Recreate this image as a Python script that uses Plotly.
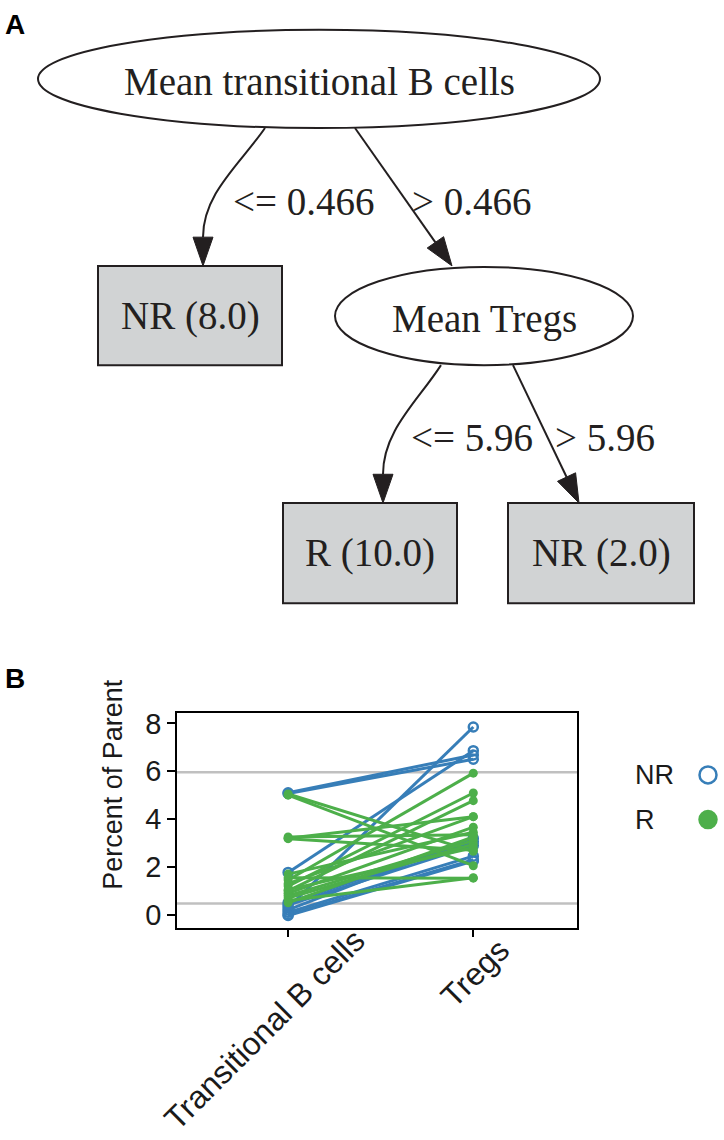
import plotly.graph_objects as go

W, H = 724, 1140

# ---- panel B data (percent of parent) ----
categories = ["Transitional B cells", "Tregs"]
nr_transB = [5.10, 5.07, 0.30, 1.77, 0.20, 0.50, 0.40, 0.10, 0.00, -0.03]
nr_tregs = [6.68, 6.50, 7.85, 6.86, 3.20, 3.05, 2.90, 2.45, 2.30, 2.25]
r_transB = [5.05, 5.00, 3.25, 3.20, 3.18, 1.70, 1.45, 1.20, 1.00, 0.90,
            0.80, 0.70, 0.60, 1.55, 0.50, 1.30, 1.05]
r_tregs = [2.65, 2.05, 3.35, 4.10, 2.70, 3.45, 5.92, 5.09, 4.77, 3.66,
           3.10, 2.95, 1.55, 1.53, 3.25, 4.10, 2.80]
thresholds = [0.466, 5.96]
y_ticks = [0, 2, 4, 6, 8]

# ---- panel A tree ----
split_nodes = ["Mean transitional B cells", "Mean Tregs"]
leaf_nodes = ["NR (8.0)", "R (10.0)", "NR (2.0)"]
edge_labels = ["<= 0.466", "> 0.466", "<= 5.96", "> 5.96"]

BLUE = "#377eb8"
GREEN = "#4daf4a"
INK = "#231f20"
SERIF = "Liberation Serif, Times New Roman, serif"
SANS = "Liberation Sans, Arial, Helvetica, sans-serif"


def pairs(a, b):
    xs, ys = [], []
    for v0, v1 in zip(a, b):
        xs += [0, 1, None]
        ys += [v0, v1, None]
    return xs, ys


fig = go.Figure()

xb, yb = pairs(nr_transB, nr_tregs)
fig.add_trace(go.Scatter(
    x=xb, y=yb, mode="lines+markers", name="NR", showlegend=False,
    line=dict(color=BLUE, width=3),
    marker=dict(symbol="circle-open", size=9, color=BLUE, line=dict(width=2.5)),
))
xg, yg = pairs(r_transB, r_tregs)
fig.add_trace(go.Scatter(
    x=xg, y=yg, mode="lines+markers", name="R", showlegend=False,
    line=dict(color=GREEN, width=3),
    marker=dict(symbol="circle", size=9, color=GREEN),
))

# legend markers (symbol to the right of text) on the pixel overlay
fig.add_trace(go.Scatter(
    x=[708, 708], y=[775, 820], xaxis="x2", yaxis="y2", mode="markers",
    showlegend=False, hoverinfo="skip",
    marker=dict(symbol=["circle-open", "circle"], size=17,
                color=[BLUE, GREEN], line=dict(width=2.5, color=[BLUE, GREEN])),
))

shapes = []
annotations = []

# threshold lines in panel B
for t in thresholds:
    shapes.append(dict(type="line", xref="x domain", yref="y", x0=0, x1=1,
                       y0=t, y1=t, line=dict(color="#c0c0c0", width=2.5),
                       layer="below"))

# tree layout in pixels (x right, y down)
ellipses = {0: (38, 24, 600, 123), 1: (335, 263, 633, 362)}
boxes = {0: (98, 262, 282, 362), 1: (283, 501, 457, 602), 2: (508, 501, 694, 602)}
edges = [  # start, tip, curved, label position
    ((265, 123), (203, 262), True, (231, 197)),
    ((355, 123), (452, 262), False, (410, 197)),
    ((441, 362), (383, 501), True, (409, 435)),
    ((513, 362), (579, 501), False, (553, 435)),
]

for i, (x0, y0, x1, y1) in ellipses.items():
    shapes.append(dict(type="circle", xref="x2", yref="y2", x0=x0, y0=y0,
                       x1=x1, y1=y1, fillcolor="white",
                       line=dict(color=INK, width=2)))
    annotations.append(dict(x=(x0 + x1) / 2, y=(y0 + y1) / 2 + 3, xref="x2",
                            yref="y2", text=split_nodes[i], showarrow=False,
                            font=dict(family=SERIF, size=39, color=INK)))

for i, (x0, y0, x1, y1) in boxes.items():
    shapes.append(dict(type="rect", xref="x2", yref="y2", x0=x0, y0=y0,
                       x1=x1, y1=y1, fillcolor="#d1d3d4",
                       line=dict(color=INK, width=2)))
    annotations.append(dict(x=(x0 + x1) / 2, y=(y0 + y1) / 2, xref="x2",
                            yref="y2", text=leaf_nodes[i], showarrow=False,
                            font=dict(family=SERIF, size=39, color=INK)))

HEAD_LEN, HEAD_HALF = 29, 10
for k, ((sx, sy), (tx, ty), curved, (lx, ly)) in enumerate(edges):
    if curved:
        dx, dy = 0.0, 1.0
    else:
        dx, dy = tx - sx, ty - sy
        n = (dx * dx + dy * dy) ** 0.5
        dx, dy = dx / n, dy / n
    bx, by = tx - dx * HEAD_LEN, ty - dy * HEAD_LEN
    if curved:
        c1 = (sx + (bx - sx) * 0.4, sy + (by - sy) * 0.33)
        c2 = (bx, by - (by - sy) * 0.4)
        path = f"M {sx},{sy} C {c1[0]},{c1[1]} {c2[0]},{c2[1]} {bx},{by}"
    else:
        path = f"M {sx},{sy} L {bx},{by}"
    shapes.append(dict(type="path", xref="x2", yref="y2", path=path,
                       line=dict(color=INK, width=2)))
    px, py = -dy, dx
    head = (f"M {tx},{ty} L {bx + px * HEAD_HALF},{by + py * HEAD_HALF} "
            f"L {bx - px * HEAD_HALF},{by - py * HEAD_HALF} Z")
    shapes.append(dict(type="path", xref="x2", yref="y2", path=head,
                       fillcolor=INK, line=dict(color=INK, width=1)))
    annotations.append(dict(x=lx, y=ly, xref="x2", yref="y2", xanchor="left",
                            text=edge_labels[k], showarrow=False,
                            font=dict(family=SERIF, size=39, color=INK)))

# panel letters
for letter, ly in [("A", 19), ("B", 678)]:
    annotations.append(dict(x=15, y=ly, xref="x2", yref="y2", text=f"<b>{letter}</b>",
                            showarrow=False, font=dict(family=SANS, size=28, color="black")))

# y title
annotations.append(dict(x=113, y=785, xref="x2", yref="y2", text="Percent of Parent",
                        textangle=-90, showarrow=False,
                        font=dict(family=SANS, size=27, color="#1a1a1a")))

# rotated category labels
label_pos = [(-24, 1032), (2, 975)]
for i, cat in enumerate(categories):
    annotations.append(dict(x=i, y=label_pos[i][1], xref="x", yref="y2",
                            xshift=label_pos[i][0], text=cat, textangle=-45,
                            showarrow=False,
                            font=dict(family=SANS, size=32, color="#1a1a1a")))

# legend text
for name, ly in [("NR", 775), ("R", 820)]:
    annotations.append(dict(x=633, y=ly, xref="x2", yref="y2", xanchor="left",
                            text=name, showarrow=False,
                            font=dict(family=SANS, size=27, color="#1a1a1a")))

fig.update_layout(
    width=W, height=H,
    margin=dict(l=0, r=0, t=0, b=0),
    paper_bgcolor="white", plot_bgcolor="rgba(0,0,0,0)",
    showlegend=False,
    shapes=shapes, annotations=annotations,
    xaxis=dict(domain=[177 / W, 577 / W], range=[-0.6, 1.56],
               tickvals=[0, 1], showticklabels=False, ticks="outside",
               ticklen=8, tickwidth=1.5, tickcolor="black",
               showline=True, linecolor="black", linewidth=1.5, mirror=True,
               showgrid=False, zeroline=False, anchor="y"),
    yaxis=dict(domain=[1 - 929 / H, 1 - 713 / H], range=[-0.54, 8.42],
               tickvals=y_ticks, ticks="outside", ticklen=8, tickwidth=1.5,
               tickcolor="black", tickfont=dict(family=SANS, size=29, color="#1a1a1a"),
               showline=True, linecolor="black", linewidth=1.5, mirror=True,
               showgrid=False, zeroline=False, anchor="x"),
    xaxis2=dict(domain=[0, 1], range=[0, W], visible=False, anchor="y2",
                fixedrange=True),
    yaxis2=dict(domain=[0, 1], range=[H, 0], visible=False, anchor="x2",
                fixedrange=True),
)

fig.write_html("out.html", config={"displayModeBar": False},
               post_script="document.body.style.margin='0';")
